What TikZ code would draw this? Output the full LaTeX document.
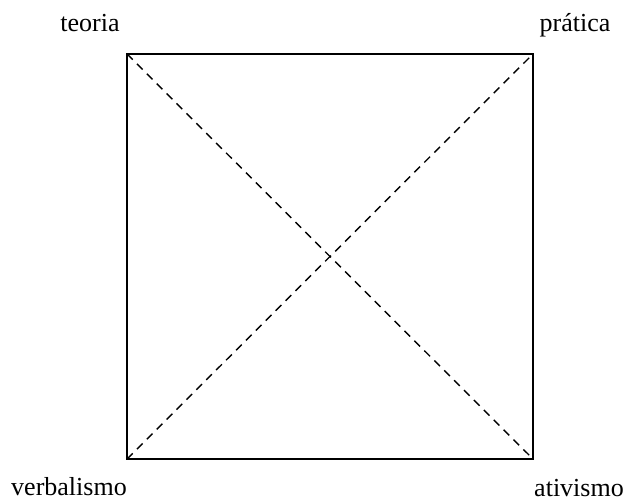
\documentclass[tikz,border=0pt]{standalone}
\usepackage{fontspec}
\setmainfont{Liberation Serif}
\usetikzlibrary{calc,positioning}

\tikzset{
  rotulo/.style={anchor=base,inner sep=0pt,font=\fontsize{13}{15}\selectfont},
  diag/.style={line width=0.7pt,dash pattern=on 4pt off 3pt}
}

\begin{document}
\begin{tikzpicture}[x=0.5pt,y=-0.5pt]
  \useasboundingbox (0,0) rectangle (624,502);
  % cantos do quadrado
  \coordinate (tl) at (127,54);
  \coordinate (tr) at (533,54);
  \coordinate (bl) at (127,459);
  \coordinate (br) at (533,459);
  \draw[line width=1pt] (tl) -- (tr) -- (br) -- (bl) -- cycle;
  \draw[diag] (tl) -- (br);
  \draw[diag] (bl) -- (tr);
  % rotulos
  \node[rotulo] (teoria) at (90,32) {teoria};
  \node[rotulo] (pratica) at (575,32) {prática};
  \node[rotulo] (verbalismo) at (69,495) {verbalismo};
  \node[rotulo] (ativismo) at (579,496) {ativismo};
\end{tikzpicture}
\end{document}
